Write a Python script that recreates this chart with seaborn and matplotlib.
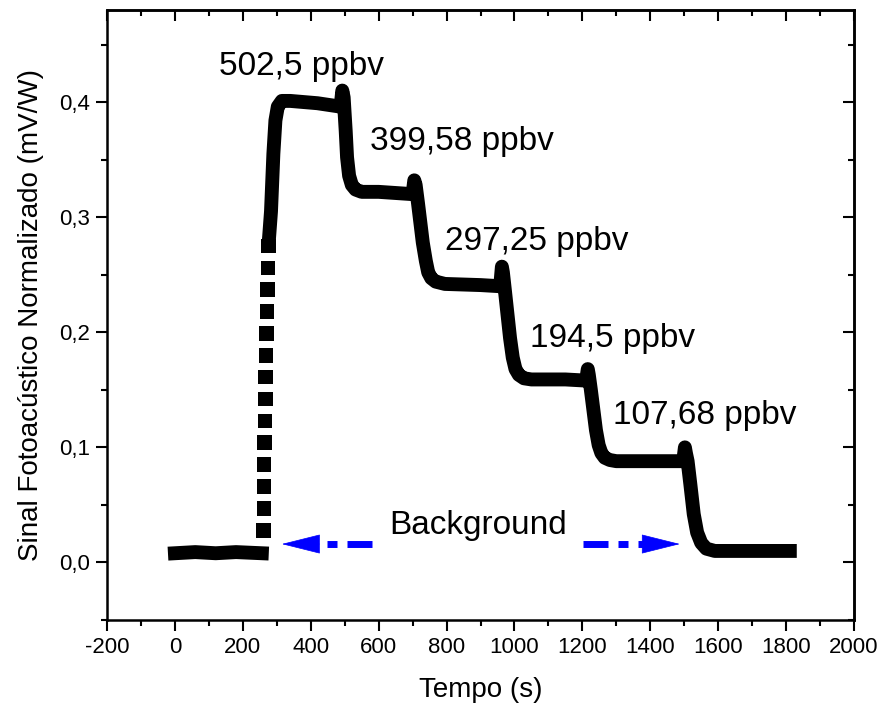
import numpy as np
import pandas as pd
import matplotlib
matplotlib.use('Agg')
import matplotlib.pyplot as plt
import matplotlib.ticker as mticker
import seaborn as sns

# baseline before the gas is let in
base_t = [0, 60, 120, 180, 256]
base_sig = [0.008, 0.009, 0.008, 0.009, 0.008]

# fast rise, sparse samples (shows as dots)
rise_t = [261, 262, 262, 263, 264, 265, 266, 267, 268, 269, 271, 272, 274, 276]
rise_sig = [0.028, 0.047, 0.066, 0.085, 0.104, 0.123, 0.142, 0.161, 0.180,
            0.199, 0.218, 0.237, 0.256, 0.275]

# main trace: plateaus and decays
trace_t = [278, 283, 290, 296, 303, 315, 340, 420, 488,
           493, 497, 503, 507, 513, 521, 532, 550, 600, 700,
           705, 709, 716, 730, 739, 746, 755, 768, 795, 900, 958,
           963, 966, 972, 987, 995, 1003, 1013, 1028, 1050, 1150, 1211,
           1216, 1219, 1225, 1240, 1248, 1256, 1266, 1281, 1300, 1400, 1497,
           1502, 1505, 1510, 1518, 1528, 1538, 1550, 1565, 1590, 1700, 1811]
trace_sig = [0.285, 0.305, 0.355, 0.384, 0.396, 0.401, 0.401, 0.399, 0.396,
             0.410, 0.404, 0.375, 0.352, 0.336, 0.328, 0.324, 0.322, 0.322, 0.320,
             0.332, 0.328, 0.312, 0.278, 0.262, 0.252, 0.247, 0.244, 0.242, 0.241, 0.240,
             0.257, 0.252, 0.236, 0.195, 0.178, 0.168, 0.163, 0.160, 0.159, 0.159, 0.158,
             0.168, 0.163, 0.150, 0.115, 0.102, 0.095, 0.091, 0.089, 0.088, 0.088, 0.088,
             0.100, 0.095, 0.088, 0.068, 0.042, 0.026, 0.017, 0.012, 0.010, 0.010, 0.010]

# concentration labels
conc_labels = ['502,5 ppbv', '399,58 ppbv', '297,25 ppbv', '194,5 ppbv', '107,68 ppbv']
conc_x = [374, 845, 1066, 1290, 1561]
conc_y = [0.431, 0.366, 0.279, 0.195, 0.128]

x_ticks = list(range(-200, 2001, 200))
y_ticks = [0.0, 0.1, 0.2, 0.3, 0.4]

sns.set_style('ticks')
plt.rcParams['font.family'] = ['Liberation Sans', 'DejaVu Sans']
plt.rcParams['text.color'] = 'black'
plt.rcParams['axes.labelcolor'] = 'black'
plt.rcParams['xtick.color'] = 'black'
plt.rcParams['ytick.color'] = 'black'
plt.rcParams['axes.edgecolor'] = 'black'

df_line = pd.DataFrame({
    't': base_t + trace_t,
    'sig': base_sig + trace_sig,
    'seg': ['base'] * len(base_t) + ['main'] * len(trace_t),
})
df_dots = pd.DataFrame({'t': rise_t, 'sig': rise_sig})

fig = plt.figure(figsize=(8.84, 7.11), dpi=100)
ax = fig.add_axes([107 / 884, 91 / 711, 747 / 884, 610 / 711])

sns.lineplot(data=df_line, x='t', y='sig', units='seg', estimator=None, sort=False,
             color='black', lw=10, ax=ax)
for ln in ax.get_lines():
    ln.set_solid_capstyle('projecting')
    ln.set_solid_joinstyle('round')
sns.scatterplot(data=df_dots, x='t', y='sig', marker='s', s=110, color='black',
                edgecolor='none', ax=ax)

for lab, xx, yy in zip(conc_labels, conc_x, conc_y):
    ax.text(xx, yy, lab, fontsize=24, ha='center', va='center')

ax.text(893, 0.032, 'Background', fontsize=24, ha='center', va='center')

# dash-dot arrows
arrow_y = 0.016
ax.plot([580, 421], [arrow_y, arrow_y], color='blue', lw=5,
        linestyle=(0, (3.6, 1.44, 1.44, 1.44)), solid_capstyle='butt')
ax.plot([1202, 1381], [arrow_y, arrow_y], color='blue', lw=5,
        linestyle=(0, (3.6, 1.44, 1.44, 1.44)), solid_capstyle='butt')
ax.annotate('', xy=(315, arrow_y), xytext=(425, arrow_y),
            arrowprops=dict(arrowstyle='-|>,head_length=26,head_width=6.5',
                            mutation_scale=1, color='blue', lw=0.5,
                            shrinkA=0, shrinkB=0))
ax.annotate('', xy=(1487, arrow_y), xytext=(1376, arrow_y),
            arrowprops=dict(arrowstyle='-|>,head_length=26,head_width=6.5',
                            mutation_scale=1, color='blue', lw=0.5,
                            shrinkA=0, shrinkB=0))

ax.set_xlim(-200, 2000)
ax.set_ylim(-0.05, 0.48)
ax.set_xticks(x_ticks)
ax.set_yticks(y_ticks)
ax.xaxis.set_minor_locator(mticker.MultipleLocator(100))
ax.yaxis.set_minor_locator(mticker.MultipleLocator(0.05))
ax.yaxis.set_major_formatter(mticker.FuncFormatter(lambda v, p: f'{v:.1f}'.replace('.', ',')))
ax.xaxis.set_major_formatter(mticker.FuncFormatter(lambda v, p: f'{v:.0f}'))

ax.tick_params(which='both', bottom=True, left=True, top=False, right=False,
               direction='out', width=1.5, color='black')
ax.tick_params(which='major', length=8, labelsize=16, pad=4)
ax.tick_params(which='minor', length=4.3)
for sp in ax.spines.values():
    sp.set_visible(True)
    sp.set_linewidth(1.8)
    sp.set_color('black')

# top and right ticks point inward
top = ax.secondary_xaxis('top')
top.set_xticks(x_ticks)
top.xaxis.set_minor_locator(mticker.MultipleLocator(100))
top.tick_params(which='both', top=True, direction='in', width=1.5, color='black')
top.tick_params(which='major', length=8, labeltop=False)
top.tick_params(which='minor', length=4.3)
top.spines['top'].set_linewidth(1.8)
right = ax.secondary_yaxis('right')
right.set_yticks(y_ticks)
right.yaxis.set_minor_locator(mticker.MultipleLocator(0.05))
right.tick_params(which='both', right=True, direction='in', width=1.5, color='black')
right.tick_params(which='major', length=8, labelright=False)
right.tick_params(which='minor', length=4.3)
right.spines['right'].set_linewidth(1.8)

ax.set_xlabel('Tempo (s)', fontsize=20, labelpad=14)
ax.set_ylabel('Sinal Fotoacústico Normalizado (mV/W)', fontsize=20, labelpad=11)

fig.savefig('out.png', dpi=100)
